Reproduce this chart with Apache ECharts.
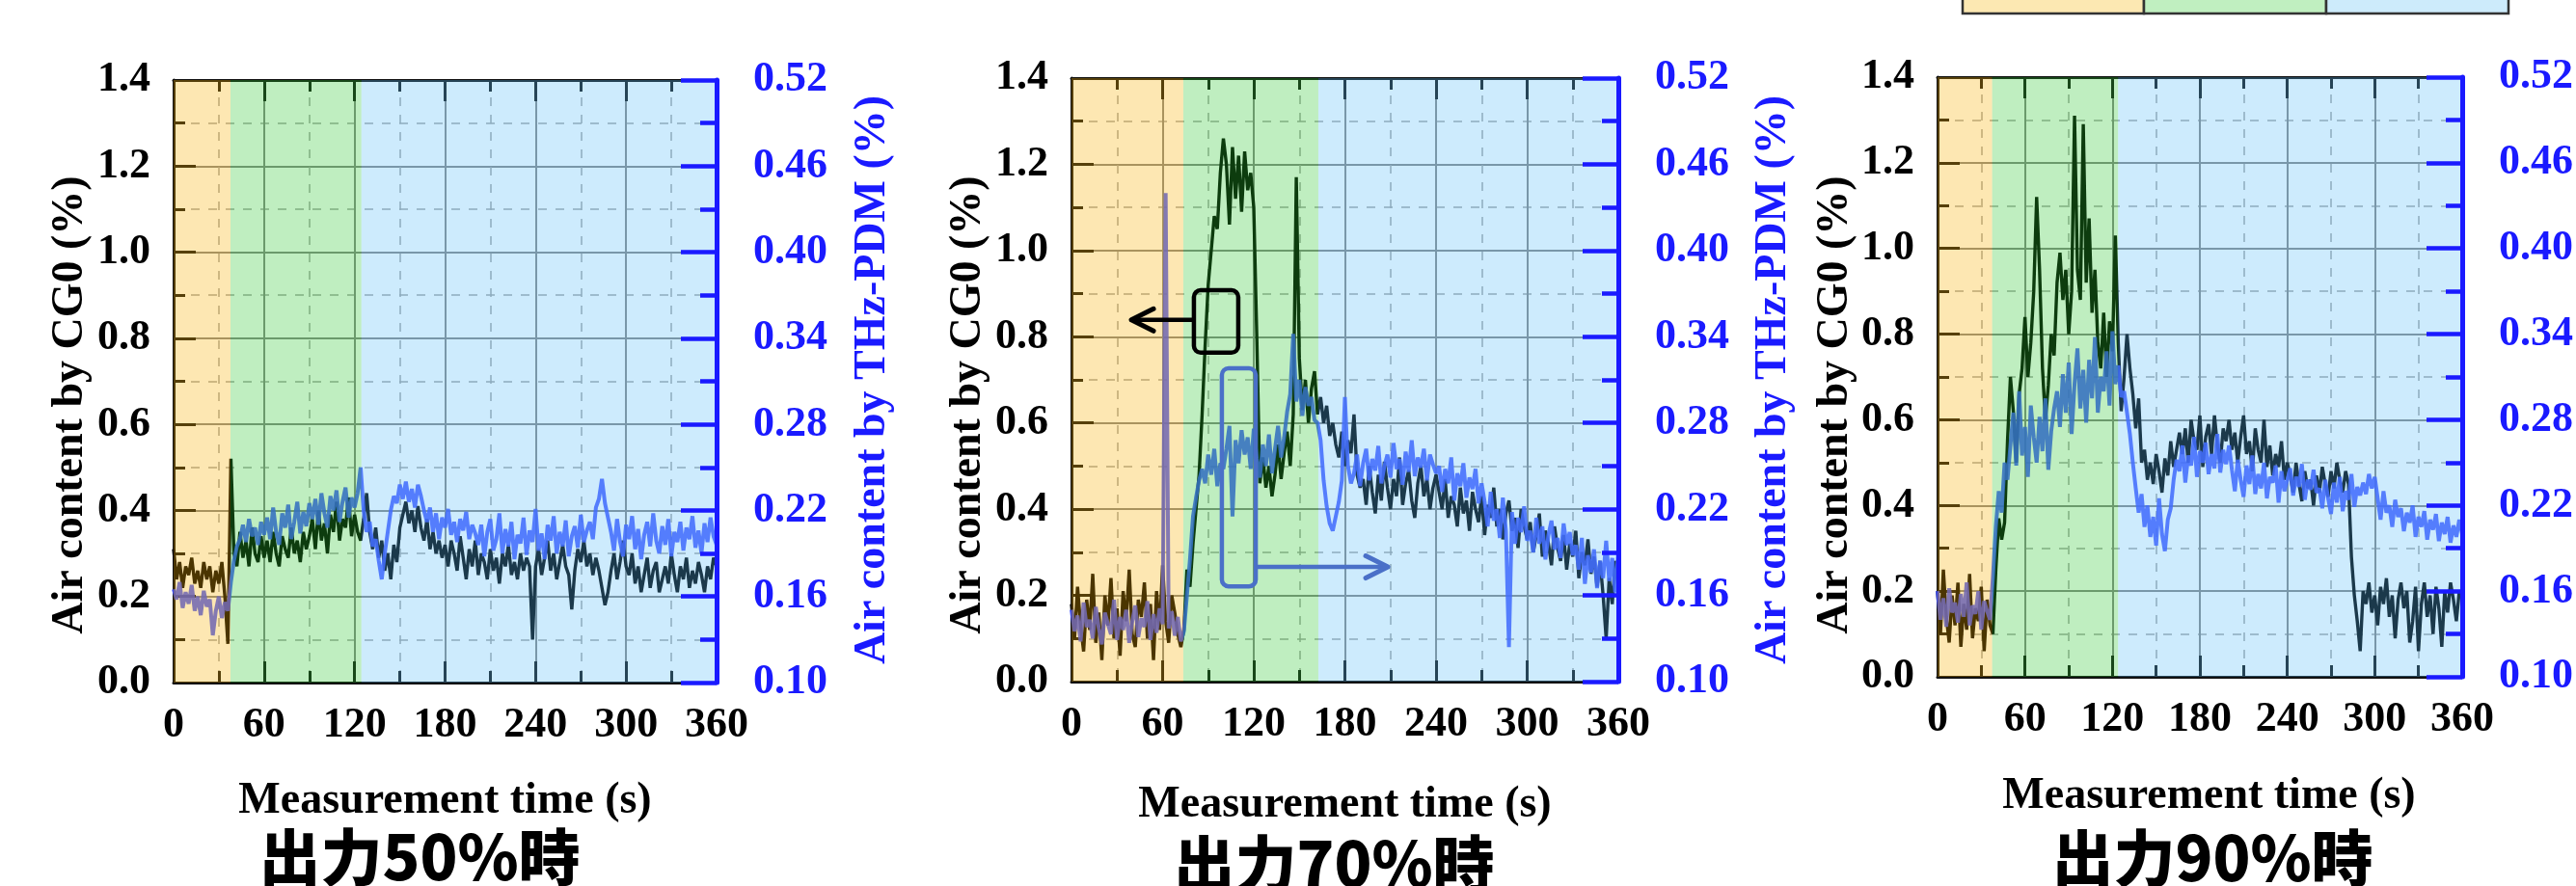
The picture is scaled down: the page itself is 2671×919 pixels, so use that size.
<!DOCTYPE html>
<html><head><meta charset="utf-8">
<script src="https://cdn.jsdelivr.net/npm/echarts@6/dist/echarts.min.js"></script>
<style>html,body{margin:0;padding:0;background:#fff}#c{width:2671px;height:919px}</style>
</head><body><div id="c"></div>
<script>
// ---------------- data ----------------
const TIME_STEP = 2;               // seconds between samples (t = 0,2,...,360)
const X_MIN = 0, X_MAX = 360, X_INTERVAL = 60;
const YL_MIN = 0, YL_MAX = 1.4, YL_INTERVAL = 0.2;
const YR_MIN = 0.10, YR_MAX = 0.52, YR_INTERVAL = 0.06;
const PANEL_TITLES = ['出力50%時', '出力70%時', '出力90%時'];
const X_TITLE = 'Measurement time (s)';
const YL_TITLE = 'Air content by CG0 (%)';
const YR_TITLE = 'Air content by THz-PDM (%)';

// shaded phases [start s, end s, phase index 0=yellow 1=green 2=blue]
const BANDS_50 = [[0, 37.7, 0], [37.7, 124.5, 1], [124.5, 360, 2]];
const BANDS_70 = [[0, 73.6, 0], [73.6, 162.5, 1], [162.5, 360, 2]];
const BANDS_90 = [[0, 37.5, 0], [37.5, 123.9, 1], [123.9, 360, 2]];

// CG0 air content (%), left axis
const CG0_50 = [
  0.31,0.24,0.28,0.22,0.27,0.25,0.29,0.23,0.26,0.22,0.28,0.24,0.27,0.21,0.26,0.23,0.28,0.20,0.09,
  0.52,
  0.30,0.27,0.35,0.29,0.33,0.27,0.36,0.30,0.28,0.34,0.29,
  0.33,0.28,0.35,0.30,0.27,0.34,0.31,0.29,0.36,0.30,0.33,0.28,0.35,0.31,0.34,
  0.38,0.31,0.40,0.33,0.37,0.30,0.39,0.35,0.42,0.33,0.38,0.36,0.43,0.34,0.39,0.35,
  0.33,
  0.38,0.44,0.35,0.31,0.36,0.29,0.33,0.26,0.30,0.24,0.32,0.28,0.36,
  0.39,0.42,0.37,0.40,0.35,0.41,0.36,0.33,0.38,0.31,0.35,0.30,0.33,0.29,0.32,
  0.27,0.33,0.30,0.26,0.34,0.29,0.24,0.31,0.27,0.33,0.25,0.30,0.28,0.24,0.31,0.26,0.29,0.23,0.30,0.27,0.32,0.25,0.28,0.24,0.30,0.26,0.29,0.27,
  0.10,
  0.27,0.31,0.25,0.29,0.33,0.26,0.30,0.24,0.28,0.32,0.27,0.25,
  0.17,
  0.26,0.31,0.28,0.33,0.27,0.30,0.25,0.29,0.26,0.22,
  0.18,
  0.21,0.26,0.30,0.24,0.28,0.33,0.27,0.25,0.30,0.23,0.27,0.21,0.25,0.29,0.22,0.26,0.28,0.21,0.24,0.27,0.23,0.30,0.25,0.21,0.27,0.24,0.29,0.22,0.26,0.23,0.28,0.25,0.21,0.27,0.24,0.29,0.27
];
// THz-PDM air content (%), right axis
const THZ_50 = [
  0.165,0.158,0.170,0.152,0.163,0.155,0.168,0.150,0.160,0.147,0.164,0.153,0.158,0.133,0.150,0.160,0.145,0.156,0.150,
  0.170,0.185,0.195,0.200,
  0.210,0.198,0.214,0.202,0.208,0.196,0.212,0.203,
  0.215,0.200,0.222,0.205,0.196,0.218,0.208,0.224,0.200,0.212,0.226,0.204,0.219,0.209,0.225,
  0.214,0.228,0.210,0.232,0.218,0.208,0.230,0.220,0.234,0.212,0.226,0.236,0.215,0.229,0.222,0.232,
  0.250,
  0.220,0.205,0.212,0.195,0.200,0.185,0.172,
  0.190,0.205,0.220,0.230,0.225,0.238,
  0.228,0.240,0.226,0.235,0.222,0.238,0.230,0.220,
  0.212,0.222,0.205,0.218,0.200,0.215,0.208,0.221,0.203,0.212,0.198,0.214,0.206,0.219,0.200,0.210,0.204,
  0.196,0.210,0.188,0.205,0.214,0.192,0.200,0.218,0.190,0.207,0.195,0.212,0.186,0.203,0.197,0.215,0.189,0.206,0.198,0.221,0.192,0.204,0.186,0.210,0.199,0.216,0.190,0.205,0.195,0.213,0.188,0.202,0.209,0.194,0.217,0.198,0.206,0.212,0.200,0.222,
  0.228,0.242,0.225,0.215,
  0.205,0.192,0.214,0.198,0.188,0.210,0.200,0.216,0.193,0.207,0.186,0.203,0.212,0.195,0.218,0.199,0.190,0.209,0.196,0.214,0.188,0.205,0.198,0.212,0.192,0.208,0.200,0.216,0.194,0.206,0.190,0.211,0.198,0.215,0.202,0.196
];
const CG0_70 = [
  0.18,0.10,0.22,0.13,0.07,0.19,0.12,0.25,0.09,0.16,0.05,0.20,0.13,0.24,0.10,0.17,0.06,0.21,0.14,0.26,0.11,0.08,0.19,0.15,0.23,0.10,0.18,0.05,0.21,0.12,0.27,0.14,0.09,0.20,0.16,0.11,0.08,
  0.12,0.26,0.22,0.32,0.40,0.48,0.62,0.78,0.92,1.00,1.08,1.05,1.18,1.26,
  1.20,1.06,1.24,1.12,1.22,1.09,1.23,1.14,1.18,1.10,
  0.80,0.46,
  0.52,0.45,0.50,0.43,0.48,0.55,0.47,0.53,0.58,0.50,0.62,
  1.17,
  0.75,
  0.63,0.70,0.60,0.68,0.72,0.62,0.66,0.60,
  0.64,0.57,0.60,0.55,0.52,0.58,0.50,0.56,0.53,0.62,0.48,0.45,
  0.47,0.41,0.50,0.44,0.39,0.48,0.42,0.51,0.45,0.40,0.47,0.43,0.52,0.41,0.46,0.49,0.42,0.38,0.46,0.50,0.43,0.47,0.40,0.45,0.48,
  0.44,0.40,0.47,0.38,0.43,0.41,0.36,0.45,0.39,0.42,0.35,0.44,0.40,0.37,0.43,0.34,0.41,0.38,0.45,0.36,0.40,0.33,0.39,0.42,0.35,0.38,0.31,0.40,0.36,0.33,
  0.37,0.30,0.34,0.39,0.29,0.35,0.32,0.27,0.36,0.31,0.28,0.34,0.26,0.32,0.29,0.35,0.24,0.30,0.27,0.33,0.25,0.29,0.22,0.28,
  0.20,0.10,0.24,0.18,0.28,0.22
];
const THZ_70 = [
  0.150,0.135,0.146,0.128,0.155,0.138,0.143,0.130,0.152,0.137,0.126,0.148,0.140,0.133,0.157,0.129,0.145,0.136,0.150,0.127,0.142,0.153,0.131,0.144,0.138,0.156,0.129,0.147,0.134,0.151,0.140,0.440,0.137,0.149,0.132,0.145,0.128,
  0.135,0.160,0.185,0.215,0.228,0.240,0.248,
  0.238,0.258,0.244,0.262,0.236,0.252,0.248,
  0.262,0.278,0.215,0.268,0.252,0.275,0.258,0.270,0.248,0.276,
  0.255,0.242,0.265,0.250,0.272,0.245,0.262,0.278,0.256,0.270,
  0.288,0.300,0.342,0.295,0.310,0.285,0.305,0.292,0.298,0.282,
  0.280,0.268,0.240,0.222,0.210,0.205,0.215,0.225,
  0.240,0.298,0.250,0.238,
  0.245,0.258,0.236,0.252,0.262,0.240,0.255,0.247,0.264,0.238,0.250,0.258,0.242,0.266,0.248,0.255,0.237,0.260,0.246,0.268,0.243,0.256,0.249,0.262,0.240,0.258,0.251,0.245,
  0.250,0.232,0.248,0.238,0.256,0.226,0.245,0.236,0.252,0.228,0.242,0.234,0.248,0.224,0.238,
  0.225,0.208,0.232,0.212,0.220,0.200,0.228,0.205,0.124,0.218,0.196,0.214,0.204,0.222,0.198,
  0.205,0.190,0.214,0.196,0.208,0.185,0.202,0.212,0.192,0.200,0.186,0.210,0.195,0.204,0.188,
  0.195,0.178,0.200,0.168,0.188,0.176,0.192,0.165,0.184,0.172,0.198,0.170,0.186,0.162,0.190
];
const CG0_90 = [
  0.20,0.10,0.25,0.14,0.08,0.19,0.12,0.22,0.07,0.17,0.11,0.24,0.09,0.16,0.13,0.21,0.06,0.18,0.12,
  0.10,
  0.25,0.37,0.32,0.36,0.55,0.70,0.62,0.50,
  0.66,0.72,0.84,0.70,0.78,0.90,
  1.12,
  0.95,0.72,0.60,0.68,0.80,0.75,0.92,0.99,0.88,0.95,0.80,0.90,
  1.31,
  0.95,0.88,
  1.29,
  0.92,1.07,0.85,0.95,0.78,0.72,0.85,0.70,0.83,0.76,
  1.03,
  0.78,0.62,0.70,0.80,0.72,0.66,0.58,0.65,0.50,0.53,0.46,
  0.50,0.45,0.52,0.48,0.43,0.51,0.47,0.55,0.49,0.53,0.57,
  0.52,0.58,0.50,0.60,0.55,0.53,0.61,0.49,0.56,0.59,0.52,0.61,0.54,0.50,0.58,0.55,0.60,
  0.53,0.57,0.50,0.56,0.61,0.52,0.55,0.48,0.58,0.53,0.50,0.60,0.49,0.54,0.47,0.52,0.49,0.55,0.46,0.50,
  0.47,0.43,0.50,0.45,0.41,0.48,0.44,0.46,0.40,0.47,0.43,0.49,0.45,0.42,0.48,0.44,0.50,0.46,0.43,0.48,0.45,
  0.28,0.19,0.13,0.06,0.20,0.17,0.22,0.15,0.19,0.12,0.21,0.17,0.23,0.14,0.19,0.09,0.18,0.22,0.16,0.20,0.08,0.13,0.21,0.06,0.17,0.22,0.14,0.19,0.10,0.21,0.16,0.07,0.20,0.15,0.22,0.18,0.13,0.20,0.19
];
const THZ_90 = [
  0.160,0.140,0.155,0.135,0.162,0.145,0.152,0.138,0.158,0.142,0.166,0.136,0.150,0.144,0.160,0.133,0.153,0.146,0.140,
  0.170,0.205,0.230,0.215,0.250,0.238,
  0.262,0.285,0.248,0.300,0.255,0.275,0.240,0.290,0.268,0.250,0.282,0.258,0.295,0.245,0.272,0.288,
  0.300,0.275,0.312,0.285,0.320,0.270,0.305,0.330,0.288,0.315,0.278,0.322,0.295,0.338,0.285,0.310,0.300,0.328,0.290,0.342,0.305,0.318,0.296,
  0.300,0.285,0.270,0.250,0.232,
  0.215,0.228,0.205,0.220,0.198,0.212,0.192,0.225,0.200,0.188,0.210,0.218,
  0.238,0.252,0.244,0.262,0.236,0.255,0.248,0.268,0.240,0.258,0.250,0.264,0.242,0.256,0.246,0.270,0.243,0.259,0.249,0.262,
  0.245,0.230,0.252,0.238,0.226,0.248,0.235,0.255,0.228,0.242,0.232,0.250,0.225,0.240,0.236,0.248,0.222,0.244,0.230,0.238,0.246,0.227,0.240,0.233,0.249,0.224,0.238,0.231,0.245,0.229,
  0.232,0.218,0.238,0.225,0.214,0.236,0.222,0.240,0.216,0.230,0.224,0.242,0.219,0.233,0.227,
  0.236,0.228,0.242,0.232,0.240,
  0.225,0.210,0.230,0.215,0.220,0.205,0.224,0.212,0.218,0.202,0.215,0.208,0.220,0.198,0.212,0.205,0.216,0.196,0.210,0.203,0.214,0.195,0.208,0.200,0.212,0.194,0.206,0.198,0.210,0.200
];

// annotation in the 70% panel (data coords, left axis units)
const NOTE_CG0_BOX = [80.6, 0.763, 109.8, 0.908];
const NOTE_CG0_ARROW = [[80.6, 0.839], [39.4, 0.839]];
const NOTE_THZ_BOX = [99.0, 0.221, 121.3, 0.727];
const NOTE_THZ_ARROW = [[121.3, 0.266], [208.3, 0.266]];

// ---------------- styling ----------------
const SERIF = '"Liberation Serif", "Times New Roman", serif';
const CJK = '"Noto Sans CJK JP", "Noto Sans CJK SC", sans-serif';
const BLUE_AX = '#1a1aff';
const BAND_FILL = ['rgba(247,177,0,0.30)', 'rgba(43,200,47,0.30)', 'rgba(90,190,247,0.30)'];
const GRIDS = [
  {left: 180, top: 83, width: 563, height: 625},
  {left: 1111, top: 81, width: 567, height: 626},
  {left: 2009, top: 80, width: 563, height: 622}
];
const PANELS = [
  {cg0: CG0_50, thz: THZ_50, bands: BANDS_50},
  {cg0: CG0_70, thz: THZ_70, bands: BANDS_70},
  {cg0: CG0_90, thz: THZ_90, bands: BANDS_90}
];

const toPairs = arr => arr.map((v, i) => [i * TIME_STEP, v]);

const chart = echarts.init(document.getElementById('c'), null, {renderer: 'canvas'});

const grid = [], xAxis = [], yAxis = [], series = [];
PANELS.forEach((p, i) => {
  grid.push(Object.assign({containLabel: false}, GRIDS[i]));
  const tickStyle = {color: '#111', width: 3};
  const baseX = {
    gridIndex: i, type: 'value', min: X_MIN, max: X_MAX, interval: X_INTERVAL,
    axisLine: {show: true, onZero: false, lineStyle: {color: '#111', width: 3}},
    axisTick: {show: true, inside: true, length: 22, lineStyle: tickStyle},
    minorTick: {show: true, splitNumber: 2, length: 12, lineStyle: tickStyle}
  };
  xAxis.push(Object.assign({}, baseX, {
    position: 'bottom',
    axisLabel: {show: true, fontFamily: SERIF, fontWeight: 'bold', fontSize: 44, color: '#000', margin: 23},
    splitLine: {show: true, lineStyle: {color: '#878787', width: 2}},
    minorSplitLine: {show: true, lineStyle: {color: '#a5a5a5', width: 1.5, type: [9, 9]}}
  }));
  xAxis.push(Object.assign({}, baseX, {
    position: 'top', axisLabel: {show: false}, splitLine: {show: false}
  }));
  yAxis.push({
    gridIndex: i, type: 'value', position: 'left', min: YL_MIN, max: YL_MAX, interval: YL_INTERVAL,
    axisLine: {show: true, onZero: false, lineStyle: {color: '#111', width: 3}},
    axisTick: {show: true, inside: true, length: 23, lineStyle: tickStyle},
    minorTick: {show: true, splitNumber: 2, length: 12, lineStyle: tickStyle},
    axisLabel: {fontFamily: SERIF, fontWeight: 'bold', fontSize: 44, color: '#000', margin: 24,
      formatter: v => v.toFixed(1)},
    splitLine: {show: true, lineStyle: {color: '#878787', width: 2}},
    minorSplitLine: {show: true, lineStyle: {color: '#a5a5a5', width: 1.5, type: [9, 9]}}
  });
  yAxis.push({
    gridIndex: i, type: 'value', position: 'right', min: YR_MIN, max: YR_MAX, interval: YR_INTERVAL, z: 20,
    axisLine: {show: true, onZero: false, lineStyle: {color: BLUE_AX, width: 5}},
    axisTick: {show: true, inside: true, length: 37, lineStyle: {color: BLUE_AX, width: 4.5}},
    minorTick: {show: true, splitNumber: 2, length: 17, lineStyle: {color: BLUE_AX, width: 4.5}},
    axisLabel: {fontFamily: SERIF, fontWeight: 'bold', fontSize: 44, color: BLUE_AX, margin: 38,
      formatter: v => v.toFixed(2)},
    splitLine: {show: false}
  });
  series.push({
    type: 'line', xAxisIndex: 2 * i, yAxisIndex: 2 * i, data: toPairs(p.cg0),
    showSymbol: false, symbol: 'none', z: 2, silent: true,
    lineStyle: {color: '#000', width: 3.4, join: 'bevel'}, itemStyle: {color: '#000'}
  });
  series.push({
    type: 'line', xAxisIndex: 2 * i, yAxisIndex: 2 * i + 1, data: toPairs(p.thz),
    showSymbol: false, symbol: 'none', z: 3, silent: true,
    lineStyle: {color: '#3a4cff', width: 4, opacity: 0.88, join: 'bevel'}, itemStyle: {color: '#3a4cff'}
  });
  series.push({
    type: 'custom', xAxisIndex: 2 * i, yAxisIndex: 2 * i, z: 10, silent: true, clip: true,
    data: p.bands,
    renderItem: (params, api) => {
      const a = api.coord([api.value(0), YL_MAX]);
      const b = api.coord([api.value(1), YL_MIN]);
      return {type: 'rect', shape: {x: a[0], y: a[1], width: b[0] - a[0], height: b[1] - a[1]},
        style: {fill: BAND_FILL[api.value(2)]}};
    }
  });
});

chart.setOption({animation: false, backgroundColor: '#fff', grid, xAxis, yAxis, series});

// ---------------- text & annotations ----------------
const g = [];
function txt(text, x, y, font, fill, rot, vAlign) {
  g.push({type: 'text', x, y, rotation: rot || 0, z: 100,
    style: {text, font, fill, align: 'center', textAlign: 'center',
      verticalAlign: vAlign || 'middle', textVerticalAlign: vAlign || 'middle'}});
}
const TITLE_FONT = 'bold 46px ' + SERIF;
const leftTitleX = [73, 1004, 1903];
const rightTitleX = [905, 1839, 2734];
const panelTitle = [[435, 857], [1383, 864], [2294, 858]];
const xTitleY = [831, 835, 826];
GRIDS.forEach((gr, i) => {
  txt(YL_TITLE, leftTitleX[i], 420, TITLE_FONT, '#000', Math.PI / 2);
  txt(YR_TITLE, rightTitleX[i], 394, TITLE_FONT, BLUE_AX, Math.PI / 2);
  txt(X_TITLE, gr.left + gr.width / 2, xTitleY[i], TITLE_FONT, '#000');
  txt(PANEL_TITLES[i], panelTitle[i][0], panelTitle[i][1], '900 64px ' + CJK, '#000', 0, 'top');
});
// phase legend strip at the top (cropped in the original)
const LEG = [[2035, 2223, '#FCE8B2'], [2223, 2412, '#C0EFC0'], [2412, 2601, '#CDEBFB']];
LEG.forEach(l => g.push({type: 'rect', z: 100, shape: {x: l[0], y: -30, width: l[1] - l[0], height: 44},
  style: {fill: l[2], stroke: '#333', lineWidth: 2.5}}));

const px = pt => chart.convertToPixel({xAxisIndex: 2, yAxisIndex: 2}, pt);
function boxAndArrow(box, arrow, color) {
  const p0 = px([box[0], box[3]]), p1 = px([box[2], box[1]]);
  g.push({type: 'rect', z: 100, shape: {x: p0[0], y: p0[1], width: p1[0] - p0[0], height: p1[1] - p0[1], r: 7},
    style: {fill: null, stroke: color, lineWidth: 4.5}});
  const a0 = px(arrow[0]), a1 = px(arrow[1]);
  g.push({type: 'line', z: 100, shape: {x1: a0[0], y1: a0[1], x2: a1[0], y2: a1[1]},
    style: {stroke: color, lineWidth: 4.5}});
  const dir = Math.sign(a1[0] - a0[0]);
  g.push({type: 'polyline', z: 100,
    shape: {points: [[a1[0] - dir * 23, a1[1] - 11.5], [a1[0], a1[1]], [a1[0] - dir * 23, a1[1] + 11.5]]},
    style: {stroke: color, lineWidth: 5, fill: null, lineCap: 'round', lineJoin: 'round'}});
}
boxAndArrow(NOTE_CG0_BOX, NOTE_CG0_ARROW, '#000');
boxAndArrow(NOTE_THZ_BOX, NOTE_THZ_ARROW, '#4a70c8');

chart.setOption({graphic: {elements: g}});
</script>
</body></html>
